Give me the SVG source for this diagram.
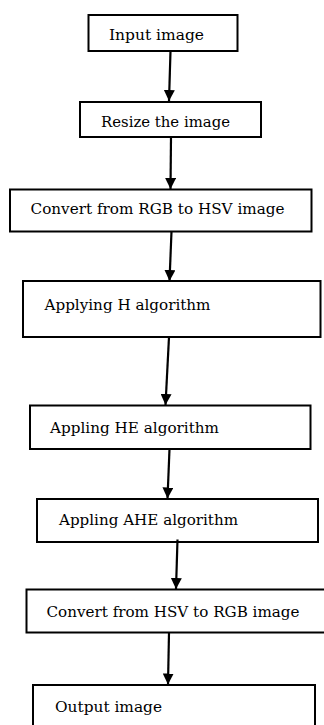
<svg xmlns="http://www.w3.org/2000/svg" width="324" height="725" viewBox="0 0 324 725">
  <style>
    .box { fill: #ffffff; stroke: #000000; stroke-width: 2; }
    .lbl { font-family: "DejaVu Serif", "Liberation Serif", serif; font-size: 15.5px; fill: #000000; }
    .conn { fill: none; stroke: #000000; stroke-width: 2.2; }
  </style>
  <defs>
    <marker id="arrow" markerUnits="userSpaceOnUse" markerWidth="11" markerHeight="11" refX="10" refY="5" orient="auto" viewBox="0 0 10 10">
      <path d="M0,0 L10,5 L0,10 z" fill="#000000"/>
    </marker>
  </defs>
  <rect width="324" height="725" fill="#ffffff"/>

  <g id="n1">
    <rect class="box" x="88.5" y="15" width="149" height="36"/>
    <text class="lbl" x="109" y="40" textLength="95" lengthAdjust="spacingAndGlyphs">Input image</text>
  </g>
  <g id="n2">
    <rect class="box" x="80" y="102" width="181" height="35"/>
    <text class="lbl" x="101" y="127" textLength="129" lengthAdjust="spacingAndGlyphs">Resize the image</text>
  </g>
  <g id="n3">
    <rect class="box" x="10" y="189.5" width="301.5" height="42"/>
    <text class="lbl" x="30.5" y="214" textLength="254" lengthAdjust="spacingAndGlyphs">Convert from RGB to HSV image</text>
  </g>
  <g id="n4">
    <rect class="box" x="23" y="281" width="297.5" height="56"/>
    <text class="lbl" x="44.5" y="309.5" textLength="166" lengthAdjust="spacingAndGlyphs">Applying H algorithm</text>
  </g>
  <g id="n5">
    <rect class="box" x="30" y="405.5" width="280.5" height="43.5"/>
    <text class="lbl" x="50" y="433" textLength="169" lengthAdjust="spacingAndGlyphs">Appling HE algorithm</text>
  </g>
  <g id="n6">
    <rect class="box" x="37" y="499" width="281" height="43"/>
    <text class="lbl" x="59" y="524.5" textLength="179" lengthAdjust="spacingAndGlyphs">Appling AHE algorithm</text>
  </g>
  <g id="n7">
    <rect class="box" x="26.5" y="589.5" width="300" height="43"/>
    <text class="lbl" x="46.5" y="617" textLength="253" lengthAdjust="spacingAndGlyphs">Convert from HSV to RGB image</text>
  </g>
  <g id="n8">
    <rect class="box" x="33" y="685" width="282" height="60"/>
    <text class="lbl" x="55" y="711.5" textLength="107" lengthAdjust="spacingAndGlyphs">Output image</text>
  </g>

  <g id="connectors">
    <path class="conn" d="M170.5,51 L169,101" marker-end="url(#arrow)"/>
    <path class="conn" d="M171,137 L170.5,189" marker-end="url(#arrow)"/>
    <path class="conn" d="M171.5,231.5 L169.5,281" marker-end="url(#arrow)"/>
    <path class="conn" d="M169,337 L165.5,405" marker-end="url(#arrow)"/>
    <path class="conn" d="M169.5,449 L167.5,498.5" marker-end="url(#arrow)"/>
    <path class="conn" d="M177.5,539.5 L176,589" marker-end="url(#arrow)"/>
    <path class="conn" d="M169,632.5 L168,684.5" marker-end="url(#arrow)"/>
  </g>
</svg>
